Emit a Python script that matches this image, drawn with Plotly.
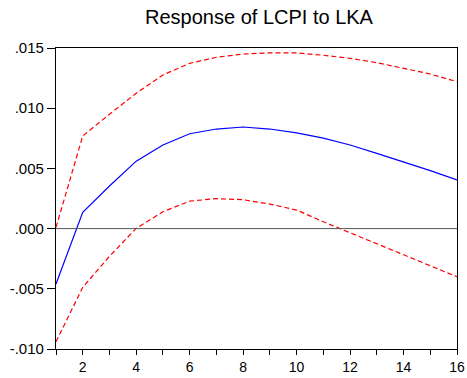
import plotly.graph_objects as go

# Impulse response of LCPI to a shock in LKA, with +/- 2 S.E. bands
periods = list(range(1, 17))
response = [-0.0046, 0.00135, 0.00354, 0.0056, 0.00694, 0.00788, 0.00827, 0.00844,
            0.00827, 0.00795, 0.00752, 0.00694, 0.00625, 0.00556, 0.00481, 0.00404]
upper_band = [0.0001, 0.00769, 0.0095, 0.01124, 0.01276, 0.01373, 0.01423, 0.0145,
              0.0146, 0.01459, 0.0144, 0.01414, 0.01378, 0.01331, 0.01284, 0.0122]
lower_band = [-0.0094, -0.00488, -0.0023, 0.00002, 0.0014, 0.00228, 0.00249, 0.0024,
              0.00204, 0.00154, 0.00057, -0.00034, -0.00122, -0.00219, -0.00308, -0.0040]

x_ticks = [2, 4, 6, 8, 10, 12, 14, 16]
y_ticks = [-0.010, -0.005, 0.000, 0.005, 0.010, 0.015]
y_tick_labels = ["-.010", "-.005", ".000", ".005", ".010", ".015"]

fig = go.Figure()

fig.add_hline(y=0, line=dict(color="#555555", width=1))

fig.add_trace(go.Scatter(x=periods, y=upper_band, mode="lines",
                         line=dict(color="#ff0000", width=1.2, dash="5px,3px"),
                         showlegend=False))
fig.add_trace(go.Scatter(x=periods, y=lower_band, mode="lines",
                         line=dict(color="#ff0000", width=1.2, dash="5px,3px"),
                         showlegend=False))
fig.add_trace(go.Scatter(x=periods, y=response, mode="lines",
                         line=dict(color="#0000ff", width=1.2),
                         showlegend=False))

fig.update_layout(
    width=467, height=378,
    margin=dict(l=56, r=10, t=48, b=29),
    paper_bgcolor="white", plot_bgcolor="white",
    font=dict(family="Liberation Sans, Arial, sans-serif", color="black", size=14),
    title=dict(text="Response of LCPI to LKA", x=0.5546, xanchor="center",
               y=0.955, yanchor="middle", automargin=False,
               font=dict(size=20, color="black")),
    xaxis=dict(range=[1, 16], tickvals=x_ticks, ticktext=[str(v) for v in x_ticks],
               ticks="outside", ticklen=5, tickcolor="black", tickwidth=1,
               minor=dict(ticks="outside", ticklen=5, tickcolor="black",
                          tickvals=list(range(1, 17))),
               showgrid=False, zeroline=False, automargin=False,
               showline=True, linecolor="black", linewidth=1.3, mirror=True,
               tickfont=dict(size=14)),
    yaxis=dict(range=[-0.010, 0.015], tickvals=y_ticks, ticktext=y_tick_labels,
               ticks="outside", ticklen=8, tickcolor="black", tickwidth=1,
               showgrid=False, zeroline=False, automargin=False,
               showline=True, linecolor="black", linewidth=1.3, mirror=True,
               tickfont=dict(size=15)),
)

fig.write_html("out.html")
